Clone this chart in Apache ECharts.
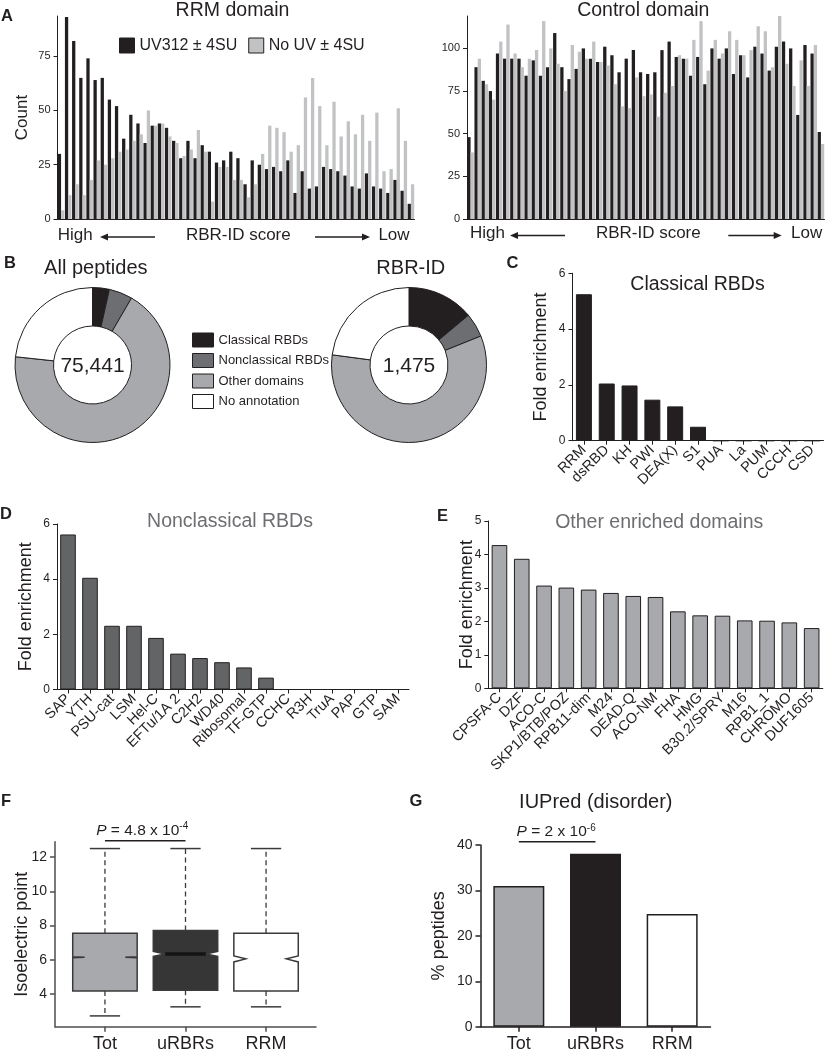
<!DOCTYPE html>
<html><head><meta charset="utf-8">
<script src="https://cdn.jsdelivr.net/npm/echarts@6/dist/echarts.min.js"></script>
<style>html,body{margin:0;padding:0;background:#fff}#c{width:825px;height:1050px}</style>
</head><body><div id="c"></div>
<script>
// ---------------- DATA ----------------
// Panel A (50 score bins, high -> low RBR-ID score)
const aRank = Array.from({length: 50}, (_, i) => String(i + 1));
const rrmUV   = [30,93,82,65,74,64,65,55,52,37,48,44,35,43,44,42,36,28,36,28,34,31,26,27,31,28,16,27,25,23,24,22,27,12,22,14,15,24,23,22,20,15,14,21,15,14,12,18,13,7];
const rrmNoUV = [4,11,16,11,18,27,25,28,31,32,36,39,50,43,44,38,35,29,32,41,31,8,24,24,18,18,10,16,30,43,42,40,31,34,56,65,52,34,54,38,45,39,48,36,49,22,23,51,36,16];
const ctrlUV   = [48,89,81,75,97,94,94,94,84,93,84,89,109,89,82,88,100,94,92,101,96,86,94,99,86,85,86,99,104,95,94,84,95,79,100,94,100,85,96,83,101,97,87,101,104,100,61,102,97,51];
const ctrlNoUV = [39,94,79,70,104,114,97,89,94,99,116,100,91,75,102,98,94,104,92,90,79,66,65,83,72,73,60,74,78,96,94,105,116,87,105,97,110,105,96,99,113,110,89,119,91,78,93,78,102,44];
const aSeriesNames = ['UV312 \u00b1 4SU', 'No UV \u00b1 4SU'];
const aLeftTicks = [0, 25, 50, 75];
const aRightTicks = [0, 25, 50, 75, 100];

// Panel B (percent of peptides)
const bNames = ['Classical RBDs', 'Nonclassical RBDs', 'Other domains', 'No annotation'];
const bAll = [3.5, 4.9, 68.3, 23.3];
const bRbr = [13.9, 5.0, 58.2, 22.9];
const bTotals = ['75,441', '1,475'];

// Panel C
const cCats = ['RRM','dsRBD','KH','PWI','DEA(X)','S1','PUA','La','PUM','CCCH','CSD'];
const cVals = [5.25, 2.05, 1.98, 1.47, 1.23, 0.5, 0, 0, 0, 0, 0];

// Panel D
const dCats = ['SAP','YTH','PSU-cat','LSM','Hel-C','EFTu/1A 2','C2H2','WD40','Ribosomal','TF-GTP','CCHC','R3H','TruA','PAP','GTP','SAM'];
const dVals = [5.62, 4.05, 2.31, 2.31, 1.87, 1.30, 1.14, 0.99, 0.80, 0.43, 0, 0, 0, 0, 0, 0];

// Panel E
const eCats = ['CPSFA-C','DZF','ACO-C','SKP1/BTB/POZ','RPB11-dim','M24','DEAD-Q','ACO-NM','FHA','HMG','B30.2/SPRY','M16','RPB1_1','CHROMO','DUF1605'];
const eVals = [4.28, 3.87, 3.07, 3.01, 2.95, 2.85, 2.76, 2.73, 2.30, 2.18, 2.17, 2.03, 2.02, 1.97, 1.80];

// Panel F (notched boxplots of isoelectric point)
const fCats = ['Tot', 'uRBRs', 'RRM'];
const fWhiskerLow  = [2.73, 3.26, 3.26];
const fQ1          = [4.19, 4.23, 4.19];
const fMedian      = [6.16, 6.35, 6.06];
const fQ3          = [7.56, 7.71, 7.56];
const fWhiskerHigh = [12.5, 12.5, 12.5];
const fNotchLow    = [6.13, 6.20, 5.88];
const fNotchHigh   = [6.19, 6.49, 6.23];
const fTicks = [4, 6, 8, 10, 12];
const fPText = '{i|P} = 4.8 x 10{s|-4}';

// Panel G
const gCats = ['Tot', 'uRBRs', 'RRM'];
const gVals = [31.0, 38.1, 24.8];
const gPText = '{i|P} = 2 x 10{s|-6}';

// ---------------- STYLE ----------------
const INK = '#231f20';
const FONT = "'Liberation Sans', Arial, Helvetica, sans-serif";
const GRAY_A = '#c1c2c4';
const pieColors = ['#231f20', '#6d6e71', '#a7a9ac', '#ffffff'];
const fFill = ['#a7a9ac', '#363636', '#ffffff'];
const fMedColor = [null, '#141414', null];
const gColors = ['#a7a9ac', '#231f20', '#ffffff'];

const chart = echarts.init(document.getElementById('c'), null, {renderer: 'canvas'});

const lineInk = {lineStyle: {color: INK, width: 1}};
function yVal(gridIndex, min, max, extra) {
  return Object.assign({
    gridIndex, type: 'value', min, max,
    splitLine: {show: false},
    axisLine: {show: true, lineStyle: {color: INK, width: 1}},
    axisTick: {show: true, length: 4, lineStyle: {color: INK}},
    axisLabel: {color: INK, fontSize: 12, fontFamily: FONT, margin: 7},
    nameLocation: 'middle', nameMoveOverlap: false,
    nameTextStyle: {color: INK, fontSize: 18, fontFamily: FONT}
  }, extra || {});
}
function xCat(gridIndex, data, extra) {
  return Object.assign({
    gridIndex, type: 'category', data,
    axisLine: {show: true, lineStyle: {color: INK, width: 1}},
    axisTick: {show: true, alignWithLabel: true, length: 4, lineStyle: {color: INK}},
    axisLabel: {interval: 0, rotate: 45, color: INK, fontSize: 14.5, fontFamily: FONT, margin: 7},
    splitLine: {show: false}
  }, extra || {});
}
const G = (o) => Object.assign({outerBoundsMode: 'none', containLabel: false}, o);

const option = {
  animation: false,
  textStyle: {fontFamily: FONT, color: INK},
  grid: [
    G({left: 57.5, top: 16, width: 357, height: 203}),     // A left
    G({left: 467, top: 16, width: 357.5, height: 203}),    // A right
    G({left: 572.5, top: 273.3, width: 251, height: 167.4}), // C
    G({left: 57, top: 524, width: 352, height: 165.5}),    // D
    G({left: 488.3, top: 521, width: 334.5, height: 167.3}), // E
    G({left: 55, top: 841.7, width: 261, height: 185}),    // F
    G({left: 480.5, top: 845, width: 230, height: 181.7})  // G
  ],
  legend: [
    {
      data: aSeriesNames.map(n => ({name: n, itemStyle: {borderColor: INK, borderWidth: 1}})),
      left: 114, top: 32.5, itemWidth: 15, itemHeight: 15, itemGap: 11, icon: 'rect',
      selectedMode: false, textStyle: {fontSize: 16, color: INK, fontFamily: FONT}
    },
    {
      data: bNames.map(n => ({name: n, itemStyle: {borderColor: INK, borderWidth: 1}})),
      orient: 'vertical', left: 187, top: 327.5, itemWidth: 21, itemHeight: 14, itemGap: 5.5, icon: 'rect',
      selectedMode: false, textStyle: {fontSize: 13, color: INK, fontFamily: FONT}
    }
  ],
  xAxis: [
    {gridIndex: 0, type: 'category', data: aRank, axisTick: {show: false}, axisLabel: {show: false}, axisLine: lineInk},
    {gridIndex: 1, type: 'category', data: aRank, axisTick: {show: false}, axisLabel: {show: false}, axisLine: lineInk},
    xCat(2, cCats),
    xCat(3, dCats),
    xCat(4, eCats),
    {
      gridIndex: 5, type: 'value', min: 0.38, max: 3.62,
      splitLine: {show: false},
      axisLine: {show: true, lineStyle: {color: '#4d4d4d', width: 1.5}},
      axisTick: {show: true, length: 5, customValues: [1, 2, 3], lineStyle: {color: '#4d4d4d', width: 1.5}},
      axisLabel: {customValues: [1, 2, 3], formatter: v => fCats[Math.round(v) - 1], color: INK, fontSize: 18, fontFamily: FONT, margin: 8}
    },
    xCat(6, gCats, {
      axisLine: {show: true, lineStyle: {color: INK, width: 1.5}},
      axisTick: {show: true, alignWithLabel: true, length: 5, lineStyle: {color: INK, width: 1.5}},
      axisLabel: {interval: 0, rotate: 0, color: INK, fontSize: 18, fontFamily: FONT, margin: 8}
    })
  ],
  yAxis: [
    yVal(0, 0, 93.5, {
      axisTick: {show: true, length: 4, customValues: aLeftTicks, lineStyle: {color: INK}},
      axisLabel: {customValues: aLeftTicks, color: INK, fontSize: 11, fontFamily: FONT, margin: 7},
      name: 'Count', nameGap: 27, nameTextStyle: {color: INK, fontSize: 17, fontFamily: FONT}
    }),
    yVal(1, 0, 119, {
      axisTick: {show: true, length: 4, customValues: aRightTicks, lineStyle: {color: INK}},
      axisLabel: {customValues: aRightTicks, color: INK, fontSize: 11, fontFamily: FONT, margin: 7}
    }),
    yVal(2, 0, 6, {interval: 2, name: 'Fold enrichment', nameGap: 22}),
    yVal(3, 0, 6, {interval: 2, name: 'Fold enrichment', nameGap: 22}),
    yVal(4, 0, 5, {interval: 1, name: 'Fold enrichment', nameGap: 12}),
    yVal(5, 2.1, 12.9, {
      axisLine: {show: true, lineStyle: {color: '#4d4d4d', width: 1.5}},
      axisTick: {show: true, length: 5, customValues: fTicks, lineStyle: {color: '#4d4d4d', width: 1.5}},
      axisLabel: {customValues: fTicks, color: INK, fontSize: 14, fontFamily: FONT, margin: 8},
      name: 'Isoelectric point', nameGap: 24
    }),
    yVal(6, 0, 40, {
      interval: 10,
      axisLine: {show: true, lineStyle: {color: INK, width: 1.5}},
      axisTick: {show: true, length: 5, lineStyle: {color: INK, width: 1.5}},
      axisLabel: {color: INK, fontSize: 14, fontFamily: FONT, margin: 8},
      name: '% peptides', nameGap: 32
    })
  ],
  series: [
    {type: 'bar', name: aSeriesNames[0], xAxisIndex: 0, yAxisIndex: 0, data: rrmUV, barGap: '0%', barCategoryGap: '8%', itemStyle: {color: INK}, silent: true},
    {type: 'bar', name: aSeriesNames[1], xAxisIndex: 0, yAxisIndex: 0, data: rrmNoUV, barGap: '0%', barCategoryGap: '8%', itemStyle: {color: GRAY_A}, silent: true},
    {type: 'bar', name: aSeriesNames[0], xAxisIndex: 1, yAxisIndex: 1, data: ctrlUV, barGap: '0%', barCategoryGap: '8%', itemStyle: {color: INK}, silent: true},
    {type: 'bar', name: aSeriesNames[1], xAxisIndex: 1, yAxisIndex: 1, data: ctrlNoUV, barGap: '0%', barCategoryGap: '8%', itemStyle: {color: GRAY_A}, silent: true},
    {
      type: 'pie', center: [92.5, 365], radius: [39, 77.5], startAngle: 90, clockwise: true,
      label: {show: false}, labelLine: {show: false}, silent: true, emphasis: {disabled: true},
      itemStyle: {borderColor: INK, borderWidth: 1},
      data: bNames.map((n, i) => ({name: n, value: bAll[i], itemStyle: {color: pieColors[i]}}))
    },
    {
      type: 'pie', center: [409, 365], radius: [39, 77.5], startAngle: 90, clockwise: true,
      label: {show: false}, labelLine: {show: false}, silent: true, emphasis: {disabled: true},
      itemStyle: {borderColor: INK, borderWidth: 1},
      data: bNames.map((n, i) => ({name: n, value: bRbr[i], itemStyle: {color: pieColors[i]}}))
    },
    {type: 'bar', xAxisIndex: 2, yAxisIndex: 2, data: cVals, barCategoryGap: '30%', itemStyle: {color: INK, borderColor: INK, borderWidth: 1}, silent: true},
    {type: 'bar', xAxisIndex: 3, yAxisIndex: 3, data: dVals, barCategoryGap: '29%', itemStyle: {color: '#636466', borderColor: INK, borderWidth: 1}, silent: true},
    {type: 'bar', xAxisIndex: 4, yAxisIndex: 4, data: eVals, barCategoryGap: '30%', itemStyle: {color: '#a7a9ac', borderColor: INK, borderWidth: 1}, silent: true},
    {
      type: 'custom', xAxisIndex: 5, yAxisIndex: 5, silent: true, clip: false,
      encode: {x: 0, y: [1, 2, 3, 4, 5, 6, 7]},
      data: fCats.map((c, i) => [i + 1, fWhiskerLow[i], fQ1[i], fMedian[i], fQ3[i], fWhiskerHigh[i], fNotchLow[i], fNotchHigh[i]]),
      renderItem: function (params, api) {
        const i = params.dataIndex;
        const xv = api.value(0);
        const py = (k) => api.coord([xv, api.value(k)])[1];
        const cx = api.coord([xv, api.value(3)])[0];
        const halfW = api.size([0.4, 0])[0];
        const yWL = py(1), yQ1 = py(2), yMed = py(3), yQ3 = py(4), yWH = py(5), yNL = py(6), yNH = py(7);
        const inset = halfW * 0.37;
        const capHalf = halfW * 0.47;
        const xl = cx - halfW, xr = cx + halfW;
        const stroke = '#3a3a3a';
        const dash = {stroke, lineWidth: 1.3, lineDash: [5, 3.5]};
        const solid = {stroke, lineWidth: 1.5};
        const children = [
          {type: 'line', shape: {x1: cx, y1: yQ3, x2: cx, y2: yWH}, style: dash},
          {type: 'line', shape: {x1: cx, y1: yQ1, x2: cx, y2: yWL}, style: dash},
          {type: 'line', shape: {x1: cx - capHalf, y1: yWH, x2: cx + capHalf, y2: yWH}, style: solid},
          {type: 'line', shape: {x1: cx - capHalf, y1: yWL, x2: cx + capHalf, y2: yWL}, style: solid},
          {type: 'polygon', shape: {points: [[xl, yQ3], [xr, yQ3], [xr, yNH], [xr - inset, yMed], [xr, yNL], [xr, yQ1], [xl, yQ1], [xl, yNL], [xl + inset, yMed], [xl, yNH]]},
           style: {fill: fFill[i], stroke, lineWidth: 1.5}}
        ];
        if (fMedColor[i]) {
          children.push({type: 'line', shape: {x1: xl + inset, y1: yMed, x2: xr - inset, y2: yMed}, style: {stroke: fMedColor[i], lineWidth: 3.5}});
        }
        return {type: 'group', children};
      }
    },
    {
      type: 'bar', xAxisIndex: 6, yAxisIndex: 6, barCategoryGap: '33.5%', silent: true,
      data: gVals.map((v, i) => ({value: v, itemStyle: {color: gColors[i]}})),
      itemStyle: {borderColor: INK, borderWidth: 1.5}
    }
  ]
};
chart.setOption(option);

// ---------------- ANNOTATIONS ----------------
const T = (text, x, y, size, opts) => ({
  type: 'text', x, y, silent: true, z: 100,
  style: Object.assign({text, fill: INK, fontSize: size, fontFamily: FONT, align: 'center', verticalAlign: 'middle'}, opts || {})
});
const bold = {fontWeight: 'bold'};
function arrow(x1, x2, y, headLeft) {
  const hx = headLeft ? x1 : x2;
  const d = headLeft ? 8 : -8;
  return [
    {type: 'line', silent: true, shape: {x1: headLeft ? x1 + 6 : x1, y1: y, x2: headLeft ? x2 : x2 - 6, y2: y}, style: {stroke: INK, lineWidth: 1.3}},
    {type: 'polygon', silent: true, shape: {points: [[hx, y], [hx + d, y - 3.5], [hx + d, y + 3.5]]}, style: {fill: INK}}
  ];
}
const pRich = {
  i: {fontStyle: 'italic', fontSize: 15.5, fontFamily: FONT, fill: INK, lineHeight: 18},
  s: {fontSize: 10, fontFamily: FONT, fill: INK, verticalAlign: 'top', lineHeight: 18, padding: [0, 0, 6, 0]}
};
const fA = chart.convertToPixel({gridIndex: 5}, [1, 12.96]);
const fB = chart.convertToPixel({gridIndex: 5}, [2, 12.96]);
const gA = chart.convertToPixel({gridIndex: 6}, [0, 40.7]);
const gB = chart.convertToPixel({gridIndex: 6}, [1, 40.7]);

const graphics = [
  T('A', 7, 16, 16.5, bold), T('B', 10, 263, 16.5, bold), T('C', 512.5, 263, 16.5, bold),
  T('D', 6, 514, 16.5, bold), T('E', 442.5, 516, 16.5, bold), T('F', 6, 801, 16.5, bold), T('G', 416, 801, 16.5, bold),
  T('RRM domain', 232.5, 11, 19.5), T('Control domain', 643.3, 11, 19.5),
  T('All peptides', 95.8, 268, 20), T('RBR-ID', 410.8, 268, 20),
  T(bTotals[0], 92.5, 366.5, 21), T(bTotals[1], 409, 366.5, 21),
  T('Classical RBDs', 697.5, 284.3, 19.5),
  T('Nonclassical RBDs', 230, 521.7, 19.5, {fill: '#6d6e71'}),
  T('Other enriched domains', 659.2, 522.3, 19.5, {fill: '#6d6e71'}),
  T('IUPred (disorder)', 595.8, 802, 20),
  T('High', 75.3, 235, 17), T('RBR-ID score', 238.3, 235, 17), T('Low', 394, 235, 17),
  T('High', 487.5, 233.5, 17), T('RBR-ID score', 648.3, 233.5, 17), T('Low', 806.7, 233.5, 17),
  ...arrow(100, 155, 237, true), ...arrow(315, 370, 237, false),
  ...arrow(510, 565, 235.5, true), ...arrow(728.3, 781.7, 235.5, false),
  {type: 'line', silent: true, shape: {x1: fA[0], y1: fA[1], x2: fB[0], y2: fB[1]}, style: {stroke: INK, lineWidth: 1.5}},
  {type: 'line', silent: true, shape: {x1: gA[0], y1: gA[1], x2: gB[0], y2: gB[1]}, style: {stroke: INK, lineWidth: 1.5}},
  T(fPText, (fA[0] + fB[0]) / 2 - 3, fA[1] - 10, 15.5, {rich: pRich}),
  T(gPText, (gA[0] + gB[0]) / 2 - 1, gA[1] - 10, 15.5, {rich: pRich})
];
chart.setOption({graphic: graphics});
</script>
</body></html>
